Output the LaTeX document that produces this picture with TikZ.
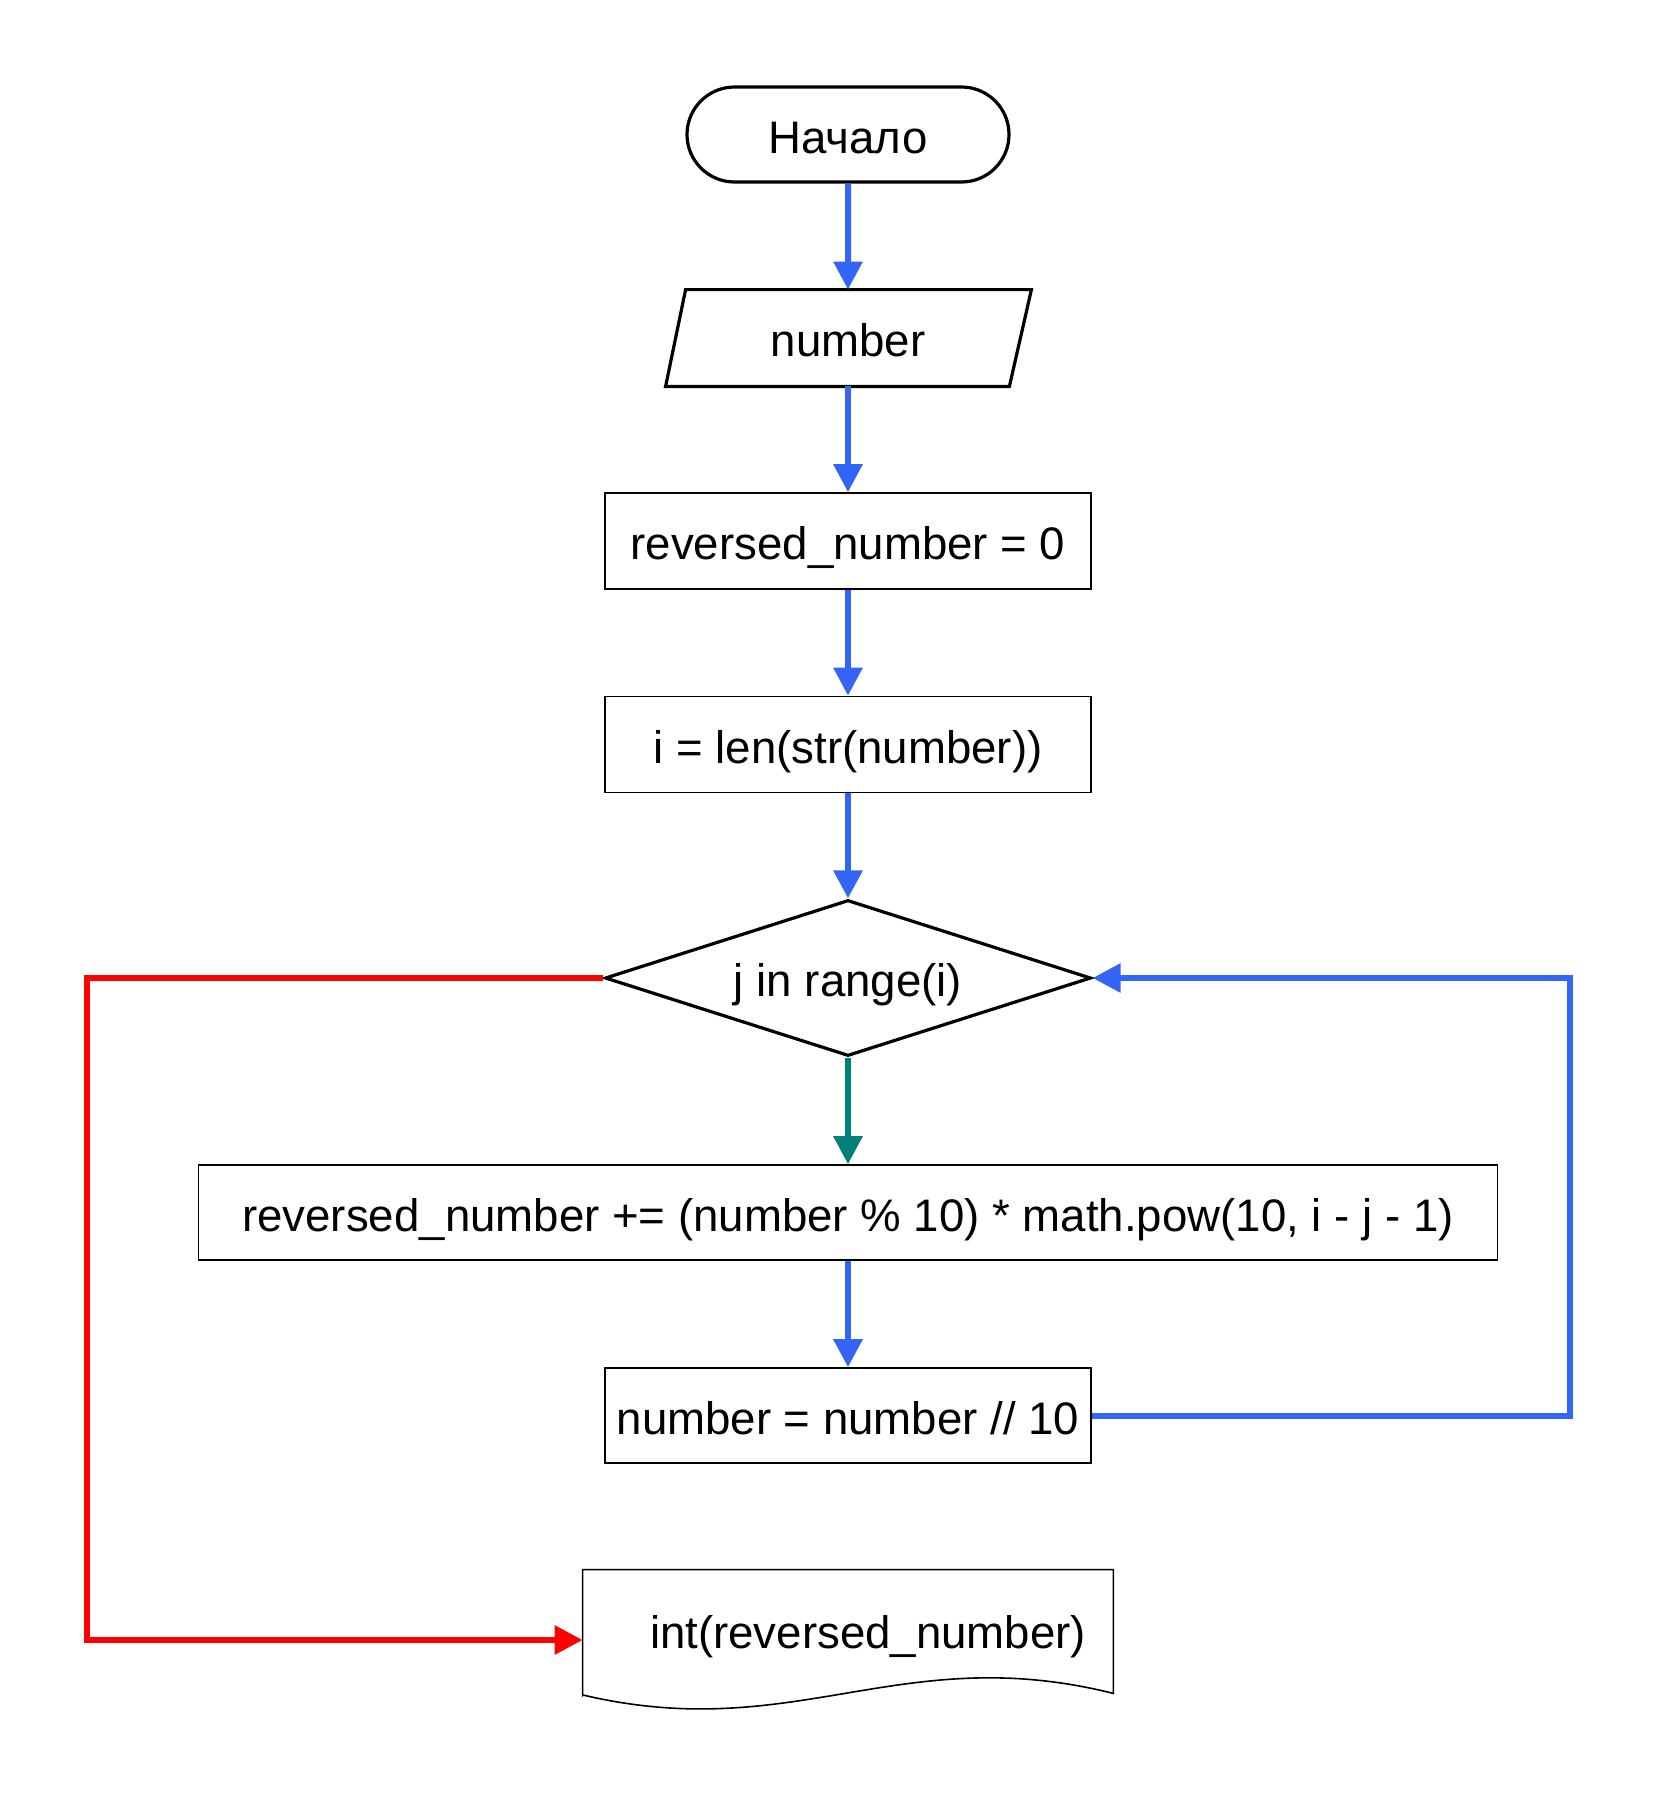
\documentclass[tikz,border=0pt]{standalone}
\usepackage{fontspec}
\setmainfont{Liberation Sans}
\usetikzlibrary{shapes.geometric,shapes.misc,arrows.meta,calc}
\definecolor{flowblue}{RGB}{51,102,245}
\definecolor{flowred}{RGB}{255,0,0}
\definecolor{flowteal}{RGB}{0,128,120}
\begin{document}
\begin{tikzpicture}[x=0.5pt,y=-0.5pt,
  every node/.style={font=\fontsize{22.8}{27}\selectfont, inner sep=0pt, text height=19.5pt, text depth=1pt},
  term/.style={rounded rectangle, draw, line width=1.6pt, minimum width=161pt, minimum height=47.5pt},
  procbox/.style={rectangle, draw, line width=0.8pt, minimum width=243pt, minimum height=48pt},
  decis/.style={diamond, draw, line width=1.6pt, minimum width=243pt, minimum height=78pt, aspect=3.1},
  flow/.style={line width=3pt, -{Triangle[width=14pt,length=14pt]}},
]
\useasboundingbox (0,0) rectangle (1656,1800);
\node[term] (start) at (848,134.5) {Начало};
\node[minimum width=172pt, minimum height=48pt] (inp) at (848,338) {number};
\draw[line width=1.6pt] ([xshift=-5pt]inp.south west) -- ([xshift=5pt]inp.north west) -- ([xshift=5.5pt]inp.north east) -- ([xshift=-5.5pt]inp.south east) -- cycle;
\node[procbox] (r1) at (848,541) {reversed\_number = 0};
\node[procbox] (r2) at (848,744.5) {i = len(str(number))};
\node[decis] (dia) at (848,978) {j in range(i)};
\node[procbox, minimum width=649.5pt, minimum height=47.5pt] (r3) at (848,1212.5) {reversed\_number += (number \% 10) * math.pow(10, i - j - 1)};
\node[procbox, minimum height=47.5pt] (r4) at (848,1415.5) {number = number // 10};
\node[minimum width=265pt, minimum height=70pt] (out) at (848,1640) {\hspace*{20pt}\raisebox{5pt}{int(reversed\_number)}};
\draw[line width=0.8pt] ($(out.south west)+(0,-15)$) -- (out.north west) -- (out.north east) -- ($(out.south east)+(0,-17)$)
  .. controls (900,1640) and (795,1745) .. (583,1695) -- cycle;
\coordinate (loopc) at (1570,978);
\coordinate (redc) at (87,1640);

\draw[flow, flowblue] (start) -- (inp);
\draw[flow, flowblue] (inp) -- (r1);
\draw[flow, flowblue] (r1) -- (r2);
\draw[flow, flowblue] (r2) -- (dia);
\draw[flow, flowteal] (dia) -- (r3);
\draw[flow, flowblue] (r3) -- (r4);
\draw[flow, flowblue] (r4.east) -| (loopc) -- (dia.east);
\draw[flow, flowred] (dia.west) -| (redc) -- (out.west);
\end{tikzpicture}
\end{document}
